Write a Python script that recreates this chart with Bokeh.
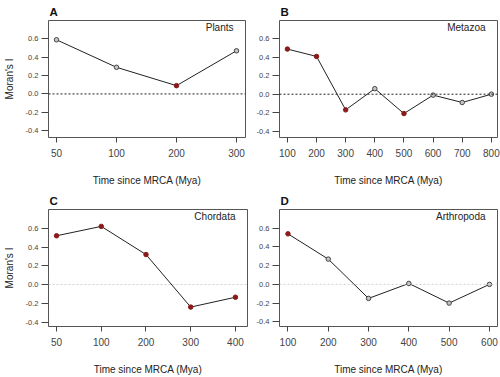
from bokeh.plotting import figure
from bokeh.models import Label, Span, FixedTicker
from bokeh.layouts import column, row
from bokeh.embed import file_html
from bokeh.resources import INLINE

# ---------------- data ----------------
plants_time = ["50", "100", "200", "300"]
plants_moran = [0.59, 0.29, 0.09, 0.47]
plants_sig = [False, False, True, False]

metazoa_time = ["100", "200", "300", "400", "500", "600", "700", "800"]
metazoa_moran = [0.49, 0.41, -0.17, 0.06, -0.21, -0.01, -0.09, 0.0]
metazoa_sig = [True, True, True, False, True, False, False, False]

chordata_time = ["50", "100", "200", "300", "400"]
chordata_moran = [0.52, 0.62, 0.32, -0.24, -0.135]
chordata_sig = [True, True, True, True, True]

arthro_time = ["100", "200", "300", "400", "500", "600"]
arthro_moran = [0.54, 0.27, -0.15, 0.01, -0.20, 0.0]
arthro_sig = [True, False, False, False, False, False]

y_ticks = [-0.4, -0.2, 0.0, 0.2, 0.4, 0.6]

FONT = "Liberation Sans"
RED = "#8b1a1a"
GREY = "#c4c4c4"


def panel(letter, name, times, vals, sig, w, h, borders, xpad, yr, zero_col, ylabel):
    n = len(times)
    xs = list(range(n))
    p = figure(width=w, height=h, output_backend="svg", toolbar_location=None,
               x_range=(-xpad[0], n - 1 + xpad[1]), y_range=yr,
               min_border_left=borders[0], min_border_right=borders[1],
               min_border_top=borders[2], min_border_bottom=borders[3])
    p.grid.visible = False
    p.outline_line_color = "#555555"
    p.outline_line_width = 1
    p.background_fill_color = "white"
    p.border_fill_color = "white"

    p.title.text = letter
    p.title.text_font = FONT
    p.title.text_font_size = "11.5px"
    p.title.text_font_style = "bold"
    p.title.text_color = "#111111"
    p.title.text_line_height = 0.85
    p.title.align = "left"
    p.title.standoff = 6
    p.title.offset = 1

    p.add_layout(Span(location=0, dimension="width", line_color=zero_col,
                      line_dash="2 2", line_width=1))
    p.line(xs, vals, line_color="#222222", line_width=1)
    cols = [RED if s else GREY for s in sig]
    lcols = [RED if s else "#444444" for s in sig]
    p.scatter(xs, vals, size=4.5, fill_color=cols, line_color=lcols, line_width=1)

    xa = p.xaxis[0]
    xa.ticker = FixedTicker(ticks=xs)
    xa.major_label_overrides = {i: t for i, t in enumerate(times)}
    xa.axis_label = "Time since MRCA (Mya)"
    ya = p.yaxis[0]
    ya.ticker = FixedTicker(ticks=y_ticks)
    ya.major_label_overrides = {t: ("%.1f" % t) for t in y_ticks}
    ya.axis_label = "Moran's I" if ylabel else None
    for ax in (xa, ya):
        ax.axis_line_color = None
        ax.major_tick_line_color = "#444444"
        ax.minor_tick_line_color = None
        ax.major_tick_in = 0
        ax.major_label_text_font = FONT
        ax.major_label_text_color = "#444444"
        ax.axis_label_text_font = FONT
        ax.axis_label_text_font_style = "normal"
        ax.axis_label_text_color = "#222222"
        ax.axis_label_text_font_size = "10px"
    xa.major_tick_out = 5
    xa.major_label_text_font_size = "10px"
    xa.major_label_standoff = 6
    xa.axis_label_standoff = 15
    ya.major_tick_out = 7
    ya.major_label_text_font_size = "7.5px"
    ya.major_label_standoff = 3
    ya.axis_label_standoff = 8
    ya.major_label_orientation = "horizontal"

    p.add_layout(Label(x=n - 1 + xpad[1], y=yr[1], x_offset=-12, y_offset=-7,
                       text=name, text_align="right", text_baseline="middle",
                       text_font=FONT, text_font_size="10px", text_color="#222222"))
    return p


pA = panel("A", "Plants", plants_time, plants_moran, plants_sig, 250, 188,
           (48, 5, 18, 50), (0.133, 0.15), (-0.475, 0.80), "#222222", True)
pB = panel("B", "Metazoa", metazoa_time, metazoa_moran, metazoa_sig, 250, 188,
           (29, 3, 18, 50), (0.27, 0.21), (-0.47, 0.80), "#222222", False)
pC = panel("C", "Chordata", chordata_time, chordata_moran, chordata_sig, 250, 189,
           (48, 3, 21, 51), (0.18, 0.27), (-0.447, 0.80), "#cfcfcf", True)
pD = panel("D", "Arthropoda", arthro_time, arthro_moran, arthro_sig, 250, 189,
           (29, 3, 20, 51), (0.21, 0.20), (-0.45, 0.80), "#cfcfcf", False)

layout = column(row(pA, pB), row(pC, pD))
open("out.html", "w").write(file_html(layout, INLINE))
